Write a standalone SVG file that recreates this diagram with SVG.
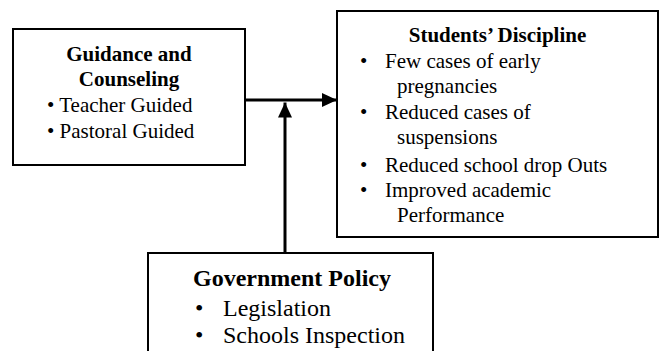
<svg xmlns="http://www.w3.org/2000/svg" width="661" height="351" viewBox="0 0 661 351">
  <style>
    .box { fill: #fff; stroke: #000; stroke-width: 2; }
    .t { font-family: "Liberation Serif", "Times New Roman", serif; fill: #000; }
    .h { font-weight: bold; }
    .link { stroke: #000; stroke-width: 3; fill: none; }
  </style>
  <defs>
    <marker id="arrow" viewBox="0 0 15 14" refX="15" refY="7" markerWidth="15" markerHeight="14" markerUnits="userSpaceOnUse" orient="auto">
      <path d="M0,0 L15,7 L0,14 Z" fill="#000"/>
    </marker>
  </defs>

  <rect width="661" height="351" fill="#fff"/>

  <g id="connectors">
    <line class="link" x1="245" y1="100" x2="337" y2="100" marker-end="url(#arrow)"/>
    <line class="link" x1="285" y1="253" x2="285" y2="102.5" marker-end="url(#arrow)"/>
  </g>

  <g id="guidance">
    <rect class="box" x="13" y="29" width="232" height="136"/>
    <text class="t h" x="129" y="61" font-size="21" text-anchor="middle">Guidance and</text>
    <text class="t h" x="129" y="86" font-size="21" text-anchor="middle">Counseling</text>
    <text class="t" x="47" y="112" font-size="21">• Teacher Guided</text>
    <text class="t" x="47" y="138" font-size="21">• Pastoral Guided</text>
  </g>

  <g id="discipline">
    <rect class="box" x="337" y="11" width="321" height="226"/>
    <text class="t h" x="497.5" y="42" font-size="21" text-anchor="middle">Students’ Discipline</text>
    <g class="t" font-size="21">
      <text x="360" y="68">•</text><text x="385" y="68">Few cases of early</text>
      <text x="397" y="93">pregnancies</text>
      <text x="360" y="119">•</text><text x="385" y="119">Reduced cases of</text>
      <text x="397" y="144">suspensions</text>
      <text x="360" y="172">•</text><text x="385" y="172">Reduced school drop Outs</text>
      <text x="360" y="197">•</text><text x="385" y="197">Improved academic</text>
      <text x="397" y="222">Performance</text>
    </g>
  </g>

  <g id="policy">
    <rect class="box" x="148" y="253" width="285" height="110"/>
    <text class="t h" x="193" y="286" font-size="24">Government Policy</text>
    <g class="t" font-size="24">
      <text x="195" y="316">•</text><text x="223" y="316">Legislation</text>
      <text x="195" y="343">•</text><text x="223" y="343">Schools Inspection</text>
    </g>
  </g>
</svg>
